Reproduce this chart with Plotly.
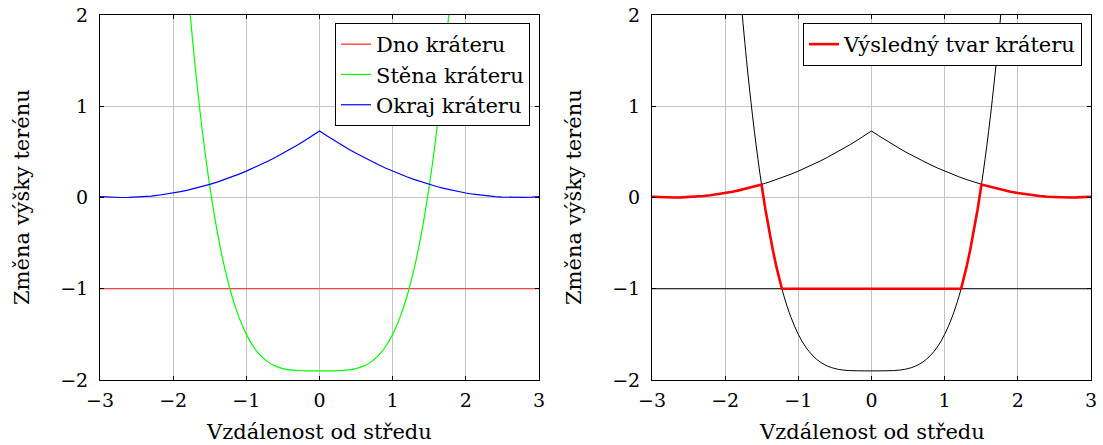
import plotly.graph_objects as go

# Sample positions and heights of the three crater profiles
rim_x = [-3.0, -2.9, -2.8, -2.7, -2.6, -2.5, -2.4, -2.3, -2.2, -2.1, -2.0,
         -1.9, -1.8, -1.7, -1.6, -1.5, -1.4, -1.3, -1.2, -1.1, -1.0,
         -0.9, -0.8, -0.7, -0.6, -0.5, -0.4, -0.3, -0.2, -0.1, 0.0,
         0.1, 0.2, 0.3, 0.4, 0.5, 0.6, 0.7, 0.8, 0.9, 1.0,
         1.1, 1.2, 1.3, 1.4, 1.5, 1.6, 1.7, 1.8, 1.9, 2.0,
         2.1, 2.2, 2.3, 2.4, 2.5, 2.6, 2.7, 2.8, 2.9, 3.0]
rim_y = [0.009, 0.004, 0.001, 0.000, 0.001, 0.004, 0.009, 0.016, 0.025, 0.036, 0.049,
         0.064, 0.081, 0.100, 0.121, 0.144, 0.169, 0.196, 0.225, 0.256, 0.289,
         0.324, 0.361, 0.400, 0.441, 0.484, 0.529, 0.576, 0.625, 0.676, 0.729,
         0.676, 0.625, 0.576, 0.529, 0.484, 0.441, 0.400, 0.361, 0.324, 0.289,
         0.256, 0.225, 0.196, 0.169, 0.144, 0.121, 0.100, 0.081, 0.064, 0.049,
         0.036, 0.025, 0.016, 0.009, 0.004, 0.001, 0.000, 0.001, 0.004, 0.009]

wall_x = [-1.8, -1.7, -1.6, -1.5, -1.4, -1.3, -1.2, -1.1, -1.0, -0.9, -0.8,
          -0.7, -0.6, -0.5, -0.4, -0.3, -0.2, -0.1, 0.0,
          0.1, 0.2, 0.3, 0.4, 0.5, 0.6, 0.7, 0.8, 0.9, 1.0,
          1.1, 1.2, 1.3, 1.4, 1.5, 1.6, 1.7, 1.8]
wall_y = [2.299, 1.441, 0.721, 0.125, -0.363, -0.758, -1.071, -1.314, -1.500, -1.638, -1.736,
          -1.804, -1.848, -1.875, -1.890, -1.897, -1.899, -1.900, -1.900,
          -1.900, -1.899, -1.897, -1.890, -1.875, -1.848, -1.804, -1.736, -1.638, -1.500,
          -1.314, -1.071, -0.758, -0.363, 0.125, 0.721, 1.441, 2.299]

floor_x = [-3.0, 3.0]
floor_y = [-1.0, -1.0]

# Combined crater profile
shape_x = [-3.0, -2.9, -2.8, -2.7, -2.6, -2.5, -2.4, -2.3, -2.2, -2.1, -2.0,
           -1.9, -1.8, -1.7, -1.6, -1.503, -1.45, -1.4, -1.35, -1.3, -1.25, -1.225,
           1.225, 1.25, 1.3, 1.35, 1.4, 1.45, 1.503, 1.6, 1.7, 1.8, 1.9, 2.0,
           2.1, 2.2, 2.3, 2.4, 2.5, 2.6, 2.7, 2.8, 2.9, 3.0]
shape_y = [0.009, 0.004, 0.001, 0.000, 0.001, 0.004, 0.009, 0.016, 0.025, 0.036, 0.049,
           0.064, 0.081, 0.100, 0.121, 0.142, -0.132, -0.363, -0.571, -0.758, -0.923, -1.0,
           -1.0, -0.923, -0.758, -0.571, -0.363, -0.132, 0.142, 0.121, 0.100, 0.081, 0.064, 0.049,
           0.036, 0.025, 0.016, 0.009, 0.004, 0.001, 0.000, 0.001, 0.004, 0.009]

x_ticks = [-3, -2, -1, 0, 1, 2, 3]
y_ticks = [-2, -1, 0, 1, 2]

FONT = "DejaVu Serif"
W, H = 1103, 445

fig = go.Figure()

# Left panel
fig.add_trace(go.Scatter(x=floor_x, y=floor_y, mode="lines", name="Dno kráteru",
                         line=dict(color="#ff2020", width=1.2), xaxis="x", yaxis="y", legend="legend"))
fig.add_trace(go.Scatter(x=wall_x, y=wall_y, mode="lines", name="Stěna kráteru",
                         line=dict(color="#00ff00", width=1.2, shape="spline"), xaxis="x", yaxis="y",
                         legend="legend"))
fig.add_trace(go.Scatter(x=rim_x, y=rim_y, mode="lines", name="Okraj kráteru",
                         line=dict(color="#0000ff", width=1.2), xaxis="x", yaxis="y", legend="legend"))

# Right panel
fig.add_trace(go.Scatter(x=floor_x, y=floor_y, mode="lines", showlegend=False,
                         line=dict(color="black", width=1), xaxis="x2", yaxis="y2"))
fig.add_trace(go.Scatter(x=wall_x, y=wall_y, mode="lines", showlegend=False,
                         line=dict(color="black", width=1, shape="spline"), xaxis="x2", yaxis="y2"))
fig.add_trace(go.Scatter(x=rim_x, y=rim_y, mode="lines", showlegend=False,
                         line=dict(color="black", width=1), xaxis="x2", yaxis="y2"))
fig.add_trace(go.Scatter(x=shape_x, y=shape_y, mode="lines", name="Výsledný tvar kráteru",
                         line=dict(color="#ff0000", width=2.6), xaxis="x2", yaxis="y2",
                         legend="legend2"))

y0, y1 = 1 - 380 / H, 1 - 15 / H
left_dom = [100 / W, 539 / W]
right_dom = [652 / W, 1091 / W]

axis_common = dict(showgrid=True, gridcolor="#c4c4c4", gridwidth=1,
                   showline=True, linecolor="black", linewidth=1, mirror="allticks",
                   ticks="inside", ticklen=4, tickcolor="black", tickwidth=1,
                   zeroline=False)
tick_font = dict(family=FONT, size=19, color="black")
label_font = dict(family=FONT, size=21, color="black")

fig.update_layout(
    width=W, height=H,
    margin=dict(l=0, r=0, t=0, b=0, autoexpand=False),
    plot_bgcolor="white",
    xaxis=dict(domain=left_dom, anchor="y", tickvals=x_ticks, tickfont=tick_font,
               ticklabelstandoff=3, **axis_common),
    yaxis=dict(domain=[y0, y1], anchor="x", tickvals=y_ticks, tickfont=tick_font,
               ticklabelstandoff=7, **axis_common),
    xaxis2=dict(domain=right_dom, anchor="y2", tickvals=x_ticks, tickfont=tick_font,
                ticklabelstandoff=3, **axis_common),
    yaxis2=dict(domain=[y0, y1], anchor="x2", tickvals=y_ticks, tickfont=tick_font,
                ticklabelstandoff=7, **axis_common),
    legend=dict(x=530 / W, y=1 - 23 / H, xanchor="right", yanchor="top",
                bgcolor="white", bordercolor="black", borderwidth=1,
                font=label_font, tracegroupgap=0),
    legend2=dict(x=1082 / W, y=1 - 23 / H, xanchor="right", yanchor="top",
                 bgcolor="white", bordercolor="black", borderwidth=1,
                 font=label_font),
    annotations=[
        dict(text="Vzdálenost od středu", x=(100 + 539) / 2 / W, y=1 - 432 / H,
             xref="paper", yref="paper", xanchor="center", yanchor="middle",
             showarrow=False, font=label_font),
        dict(text="Vzdálenost od středu", x=(652 + 1091) / 2 / W, y=1 - 432 / H,
             xref="paper", yref="paper", xanchor="center", yanchor="middle",
             showarrow=False, font=label_font),
        dict(text="Změna výšky terénu", x=22 / W, y=1 - 197 / H,
             xref="paper", yref="paper", xanchor="center", yanchor="middle",
             textangle=-90, showarrow=False, font=label_font),
        dict(text="Změna výšky terénu", x=574 / W, y=1 - 197 / H,
             xref="paper", yref="paper", xanchor="center", yanchor="middle",
             textangle=-90, showarrow=False, font=label_font),
    ],
)
fig.update_xaxes(range=[-3, 3])
fig.update_yaxes(range=[-2, 2])

fig.write_html("out.html")
